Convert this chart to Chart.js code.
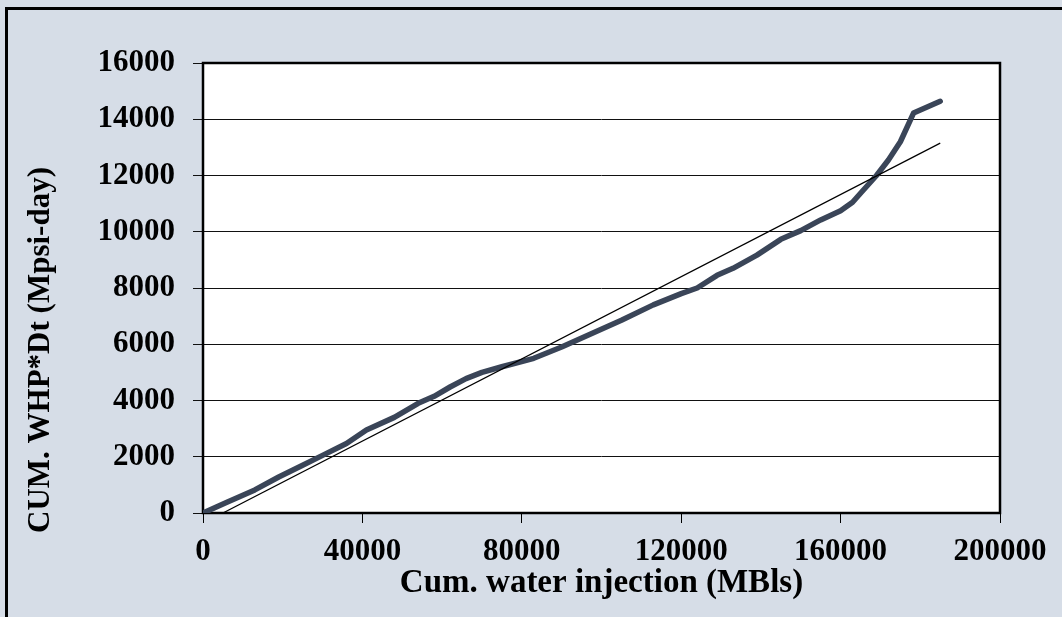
<!DOCTYPE html>
<html>
<head>
<meta charset="utf-8">
<script src="https://cdn.jsdelivr.net/npm/chart.js@4.4.1/dist/chart.umd.min.js"></script>
<style>
  html, body { margin: 0; padding: 0; background: #d6dde7; }
  #wrap { width: 1062px; height: 617px; position: relative; }
</style>
</head>
<body>
<div id="wrap"><canvas id="c" width="1062" height="617"></canvas></div>
<script>
// Cumulative water injection (MBls) and cumulative WHP*Dt (Mpsi-day)
const injection = [0, 6000, 13000, 19000, 25000, 30000, 36000, 41000, 48000, 54000,
  58000, 62000, 66000, 70000, 75000, 83000, 90000, 97000, 105000, 113000,
  120000, 124000, 129000, 133000, 139000, 145000, 150000, 155000, 160000, 163000,
  165000, 169000, 172000, 175000, 178300, 185000];
const cumWhp = [0, 380, 820, 1280, 1700, 2050, 2470, 2950, 3400, 3900,
  4150, 4480, 4780, 5000, 5200, 5500, 5900, 6350, 6850, 7400,
  7800, 8000, 8450, 8700, 9170, 9730, 10040, 10420, 10750, 11050,
  11370, 12000, 12550, 13200, 14220, 14640];

// Straight-line fit
const trendInjection = [5000, 185000];
const trendWhp = [0, 13150];

const xTicks = [0, 40000, 80000, 120000, 160000, 200000];
const yTicks = [0, 2000, 4000, 6000, 8000, 10000, 12000, 14000, 16000];

const xTitle = 'Cum. water injection (MBls)';
const yTitle = 'CUM. WHP*Dt (Mpsi-day)';

const FONT = "'Liberation Serif', 'Times New Roman', serif";
const PANEL = '#d6dde7';

const toPoints = (xs, ys) => xs.map((x, i) => ({ x: x, y: ys[i] }));

const framePlugin = {
  id: 'frame',
  beforeDraw(chart) {
    const { ctx, chartArea: a, width, height } = chart;
    ctx.save();
    ctx.fillStyle = PANEL;
    ctx.fillRect(0, 0, width, height);
    // outer frame (top and left edges)
    ctx.strokeStyle = '#000';
    ctx.lineWidth = 3;
    ctx.beginPath();
    ctx.moveTo(6.5, height);
    ctx.lineTo(6.5, 8.5);
    ctx.lineTo(width, 8.5);
    ctx.stroke();
    // plot area
    ctx.fillStyle = '#fff';
    ctx.fillRect(a.left, a.top, a.right - a.left, a.bottom - a.top);
    ctx.restore();
  },
  beforeDatasetsDraw(chart) {
    const { ctx, chartArea: a } = chart;
    ctx.save();
    ctx.strokeStyle = '#000';
    ctx.lineWidth = 2.5;
    ctx.strokeRect(a.left, a.top, a.right - a.left, a.bottom - a.top);
    ctx.restore();
  },
  afterDraw(chart) {
    const { ctx } = chart;
    ctx.save();
    ctx.translate(41, 350);
    ctx.rotate(-Math.PI / 2);
    ctx.font = 'bold 31px ' + FONT;
    ctx.fillStyle = '#000';
    ctx.textAlign = 'center';
    ctx.textBaseline = 'middle';
    ctx.fillText(yTitle, 0, 0);
    ctx.restore();
  }
};

new Chart(document.getElementById('c'), {
  type: 'scatter',
  data: {
    datasets: [
      {
        label: 'Cum. WHP*Dt',
        data: toPoints(injection, cumWhp),
        showLine: true,
        borderColor: '#3a4558',
        borderWidth: 5.5,
        borderCapStyle: 'round',
        borderJoinStyle: 'round',
        pointRadius: 0,
        tension: 0,
        order: 2
      },
      {
        label: 'Linear fit',
        data: toPoints(trendInjection, trendWhp),
        showLine: true,
        borderColor: '#000',
        borderWidth: 1.2,
        pointRadius: 0,
        order: 1
      }
    ]
  },
  options: {
    responsive: false,
    animation: false,
    layout: { padding: { left: 0, top: 63, right: 62, bottom: 0 } },
    plugins: { legend: { display: false }, tooltip: { enabled: false } },
    scales: {
      x: {
        type: 'linear',
        min: 0,
        max: 200000,
        afterBuildTicks: s => { s.ticks = xTicks.map(v => ({ value: v })); },
        afterFit: s => { s.height = 104; },
        border: { display: false },
        grid: { drawOnChartArea: false, drawTicks: true, tickLength: 10, color: '#000', lineWidth: 1 },
        ticks: {
          autoSkip: false, maxRotation: 0, padding: 10, color: '#000',
          font: { family: FONT, size: 31, weight: 'bold' },
          callback: v => String(v)
        },
        title: {
          display: true, text: xTitle, color: '#000',
          font: { family: FONT, size: 33, weight: 'bold' },
          padding: { top: 0, bottom: 14 }
        }
      },
      y: {
        type: 'linear',
        min: 0,
        max: 16000,
        afterBuildTicks: s => { s.ticks = yTicks.map(v => ({ value: v })); },
        afterFit: s => { s.width = 203; },
        border: { display: false },
        grid: { drawTicks: true, tickLength: 10, color: '#111', lineWidth: 1 },
        ticks: {
          autoSkip: false, padding: 18, color: '#000',
          font: { family: FONT, size: 31, weight: 'bold' },
          callback: v => String(v)
        }
      }
    }
  },
  plugins: [framePlugin]
});
</script>
</body>
</html>
